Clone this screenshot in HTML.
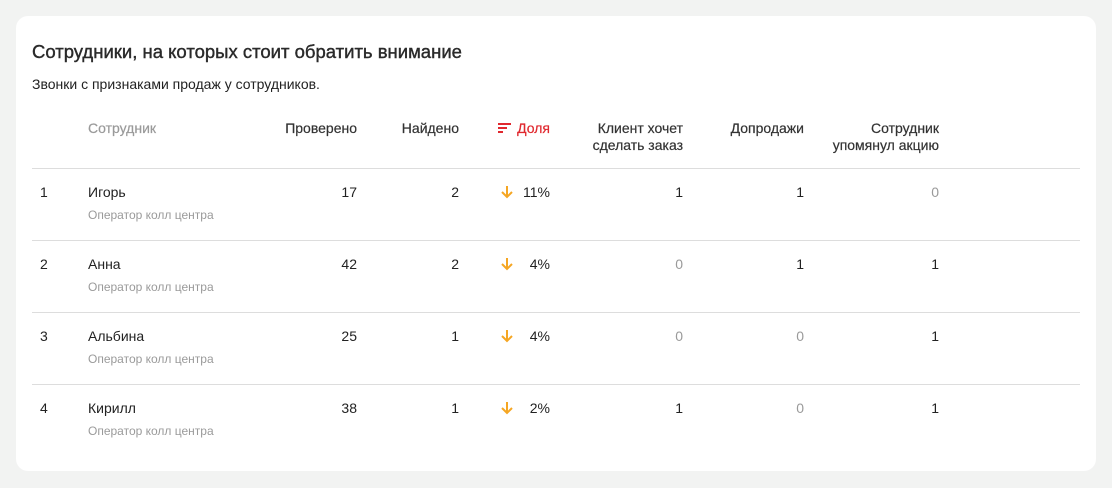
<!DOCTYPE html>
<html><head><meta charset="utf-8"><style>
body{margin:0;width:1112px;height:488px;background:#f2f3f2;font-family:"Liberation Sans",sans-serif;color:#222;position:relative;overflow:hidden}
.card{position:absolute;left:16px;top:16px;width:1080px;height:455px;background:#fff;border-radius:12px}
.t{position:absolute;white-space:nowrap;font-size:14px;line-height:17px}
.r{text-align:right}
.h{color:#333;font-size:14px;-webkit-text-stroke:0.2px #333}
.g{color:#9a9a9a}
.sub{color:#9a9a9a;font-size:12px}
.line{position:absolute;left:32px;width:1048px;height:1px;background:#ddd}
.arr{position:absolute}
</style></head><body>
<div class="card"></div>
<div class="t" style="left:32px;top:41px;font-size:18.5px;line-height:22px;color:#2a2a2a;-webkit-text-stroke:0.4px #2a2a2a">Сотрудники, на которых стоит обратить внимание</div>
<div class="t" style="left:32px;top:76px;font-size:14px">Звонки с признаками продаж у сотрудников.</div>

<div class="t h g" style="left:88px;top:120px;color:#9a9a9a;-webkit-text-stroke:0.2px #9a9a9a">Сотрудник</div>
<div class="t h r" style="right:755px;top:120px">Проверено</div>
<div class="t h r" style="right:653px;top:120px">Найдено</div>
<svg style="position:absolute;left:498px;top:123px" width="13" height="10"><rect x="0" y="0" width="13" height="2" fill="#e0282e"/><rect x="0" y="4" width="9" height="2" fill="#e0282e"/><rect x="0" y="8" width="5" height="2" fill="#e0282e"/></svg>
<div class="t h r" style="right:562px;top:120px;color:#e0282e;-webkit-text-stroke:0.2px #e0282e">Доля</div>
<div class="t h r" style="right:429px;top:120px">Клиент хочет<br>сделать заказ</div>
<div class="t h r" style="right:308px;top:120px">Допродажи</div>
<div class="t h r" style="right:173px;top:120px">Сотрудник<br>упомянул акцию</div>
<div class="line" style="top:168px"></div>
<div class="line" style="top:240px"></div>
<div class="line" style="top:312px"></div>
<div class="line" style="top:384px"></div>

<div class="t" style="left:40px;top:184px">1</div>
<div class="t" style="left:88px;top:184px">Игорь</div>
<div class="t sub" style="left:88px;top:207px">Оператор колл центра</div>
<div class="t r" style="right:755px;top:184px">17</div>
<div class="t r" style="right:653px;top:184px">2</div>
<svg class="arr" style="left:500px;top:185px" width="14" height="14"><path d="M7 1V12M2 7L7 12L12 7" stroke="#f5a623" stroke-width="2" fill="none"/></svg>
<div class="t r" style="right:562px;top:184px">11%</div>
<div class="t r" style="right:429px;top:184px">1</div>
<div class="t r" style="right:308px;top:184px">1</div>
<div class="t r g" style="right:173px;top:184px">0</div>

<div class="t" style="left:40px;top:256px">2</div>
<div class="t" style="left:88px;top:256px">Анна</div>
<div class="t sub" style="left:88px;top:279px">Оператор колл центра</div>
<div class="t r" style="right:755px;top:256px">42</div>
<div class="t r" style="right:653px;top:256px">2</div>
<svg class="arr" style="left:500px;top:257px" width="14" height="14"><path d="M7 1V12M2 7L7 12L12 7" stroke="#f5a623" stroke-width="2" fill="none"/></svg>
<div class="t r" style="right:562px;top:256px">4%</div>
<div class="t r g" style="right:429px;top:256px">0</div>
<div class="t r" style="right:308px;top:256px">1</div>
<div class="t r" style="right:173px;top:256px">1</div>

<div class="t" style="left:40px;top:328px">3</div>
<div class="t" style="left:88px;top:328px">Альбина</div>
<div class="t sub" style="left:88px;top:351px">Оператор колл центра</div>
<div class="t r" style="right:755px;top:328px">25</div>
<div class="t r" style="right:653px;top:328px">1</div>
<svg class="arr" style="left:500px;top:329px" width="14" height="14"><path d="M7 1V12M2 7L7 12L12 7" stroke="#f5a623" stroke-width="2" fill="none"/></svg>
<div class="t r" style="right:562px;top:328px">4%</div>
<div class="t r g" style="right:429px;top:328px">0</div>
<div class="t r g" style="right:308px;top:328px">0</div>
<div class="t r" style="right:173px;top:328px">1</div>

<div class="t" style="left:40px;top:400px">4</div>
<div class="t" style="left:88px;top:400px">Кирилл</div>
<div class="t sub" style="left:88px;top:423px">Оператор колл центра</div>
<div class="t r" style="right:755px;top:400px">38</div>
<div class="t r" style="right:653px;top:400px">1</div>
<svg class="arr" style="left:500px;top:401px" width="14" height="14"><path d="M7 1V12M2 7L7 12L12 7" stroke="#f5a623" stroke-width="2" fill="none"/></svg>
<div class="t r" style="right:562px;top:400px">2%</div>
<div class="t r" style="right:429px;top:400px">1</div>
<div class="t r g" style="right:308px;top:400px">0</div>
<div class="t r" style="right:173px;top:400px">1</div>
</body></html>
